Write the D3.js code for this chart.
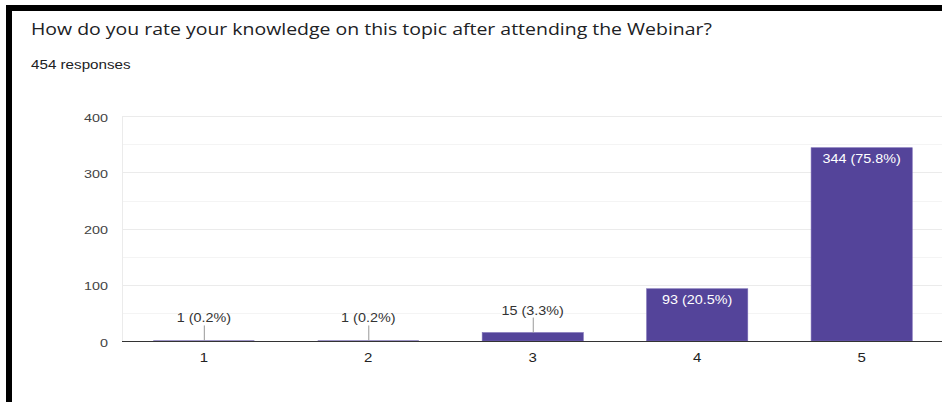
<!DOCTYPE html>
<html>
<head>
<meta charset="utf-8">
<script src="https://cdn.jsdelivr.net/npm/d3@7"></script>
<style>
  html, body { margin: 0; padding: 0; background: #fff; }
  svg { display: block; }
</style>
</head>
<body>
<div id="chart"></div>
<script>
// values
const categories = ['1', '2', '3', '4', '5'];
const counts = [1, 1, 15, 93, 344];
const labels = ['1 (0.2%)', '1 (0.2%)', '15 (3.3%)', '93 (20.5%)', '344 (75.8%)'];
const yTicks = [0, 100, 200, 300, 400];
const minorTicks = [50, 150, 250, 350];
const title = 'How do you rate your knowledge on this topic after attending the Webinar?';
const subtitle = '454 responses';

const W = 942, H = 402;
const plot = { left: 122, right: 943.5, top: 116.25, bottom: 341 };
// the screenshot is stretched a little sideways, so text is too
const SX = 1.2;
const chartFont = 'Liberation Sans, Arial, sans-serif';

const svg = d3.select('#chart').append('svg')
    .attr('width', W)
    .attr('height', H);

// black frame on top and left
svg.append('rect').attr('x', 0).attr('y', 0).attr('width', W).attr('height', H).attr('fill', '#fff');
svg.append('rect').attr('x', 6).attr('y', 5).attr('width', W - 6).attr('height', 6).attr('fill', '#000');
svg.append('rect').attr('x', 6).attr('y', 5).attr('width', 6).attr('height', H - 5).attr('fill', '#000');

function stretchedText(g, x, y, str, size, opts = {}) {
    return g.append('text')
        .attr('transform', `translate(${x},${y}) scale(${opts.sx || SX},1)`)
        .attr('text-anchor', opts.anchor || 'start')
        .attr('font-family', opts.font || chartFont)
        .attr('font-size', size)
        .attr('fill', opts.fill || '#333')
        .text(str);
}

stretchedText(svg, 31, 35, title, 16.5, { font: 'Open Sans, sans-serif', fill: '#202124', sx: 1.18 });
stretchedText(svg, 31, 69, subtitle, 13, { fill: '#202124', sx: 1.17 });

const x = d3.scaleBand()
    .domain(categories)
    .range([plot.left, plot.right])
    .paddingInner(0.385)
    .paddingOuter(0.19);

const y = d3.scaleLinear()
    .domain([0, 400])
    .range([plot.bottom, plot.top]);

// gridlines
svg.append('g').selectAll('line')
    .data(minorTicks)
    .join('line')
    .attr('x1', plot.left).attr('x2', W)
    .attr('y1', d => Math.round(y(d)) + 0.5).attr('y2', d => Math.round(y(d)) + 0.5)
    .attr('stroke', '#f4f4f4');

svg.append('g').selectAll('line')
    .data(yTicks.filter(d => d > 0))
    .join('line')
    .attr('x1', plot.left).attr('x2', W)
    .attr('y1', d => Math.round(y(d)) + 0.5).attr('y2', d => Math.round(y(d)) + 0.5)
    .attr('stroke', '#ebebeb');

// left edge of plot area
svg.append('line')
    .attr('x1', plot.left + 0.5).attr('x2', plot.left + 0.5)
    .attr('y1', plot.top).attr('y2', plot.bottom)
    .attr('stroke', '#ebebeb');

// y axis labels
const yAxis = d3.axisLeft(y).tickValues(yTicks).tickSize(0).tickPadding(0);
const gy = svg.append('g').attr('transform', `translate(108,0)`).call(yAxis);
gy.select('.domain').remove();
gy.selectAll('text')
    .attr('dy', 5)
    .attr('transform', `scale(1.25,1)`)
    .attr('font-family', chartFont)
    .attr('font-size', 11.5)
    .attr('fill', '#444');

// bars
svg.append('g').selectAll('rect')
    .data(counts)
    .join('rect')
    .attr('x', (d, i) => x(categories[i]))
    .attr('width', x.bandwidth())
    .attr('y', d => y(d))
    .attr('height', d => y(0) - y(d))
    .attr('fill', '#54449a')
    .attr('stroke', d => y(0) - y(d) > 5 ? '#7a6cb5' : 'none')
    .attr('stroke-width', 0.6);

// baseline
svg.append('line')
    .attr('x1', plot.left).attr('x2', W)
    .attr('y1', y(0) + 0.5).attr('y2', y(0) + 0.5)
    .attr('stroke', '#333')
    .attr('stroke-width', 1.2);

// x axis labels
const xAxis = d3.axisBottom(x).tickSize(0).tickPadding(0);
const gx = svg.append('g').attr('transform', `translate(0,${y(0) + 21})`).call(xAxis);
gx.select('.domain').remove();
gx.selectAll('text')
    .attr('dy', 0)
    .attr('transform', `scale(${SX},1)`)
    .attr('font-family', chartFont)
    .attr('font-size', 12.5)
    .attr('fill', '#222');

// data labels: inside tall bars, above with a leader for short ones
const inside = d => y(0) - y(d) > 30;
const lab = svg.append('g');
counts.forEach((d, i) => {
    const cx = x(categories[i]) + x.bandwidth() / 2;
    if (inside(d)) {
        stretchedText(lab, cx, y(d) + 15, labels[i], 12.5, { anchor: 'middle', fill: '#fff', sx: 1.15 });
    } else {
        const top = y(d);
        lab.append('line')
            .attr('x1', cx + 0.5).attr('x2', cx + 0.5)
            .attr('y1', top - 15).attr('y2', top)
            .attr('stroke', '#999');
        stretchedText(lab, cx, top - 18, labels[i], 12.5, { anchor: 'middle', fill: '#333', sx: 1.15 });
    }
});
</script>
</body>
</html>
